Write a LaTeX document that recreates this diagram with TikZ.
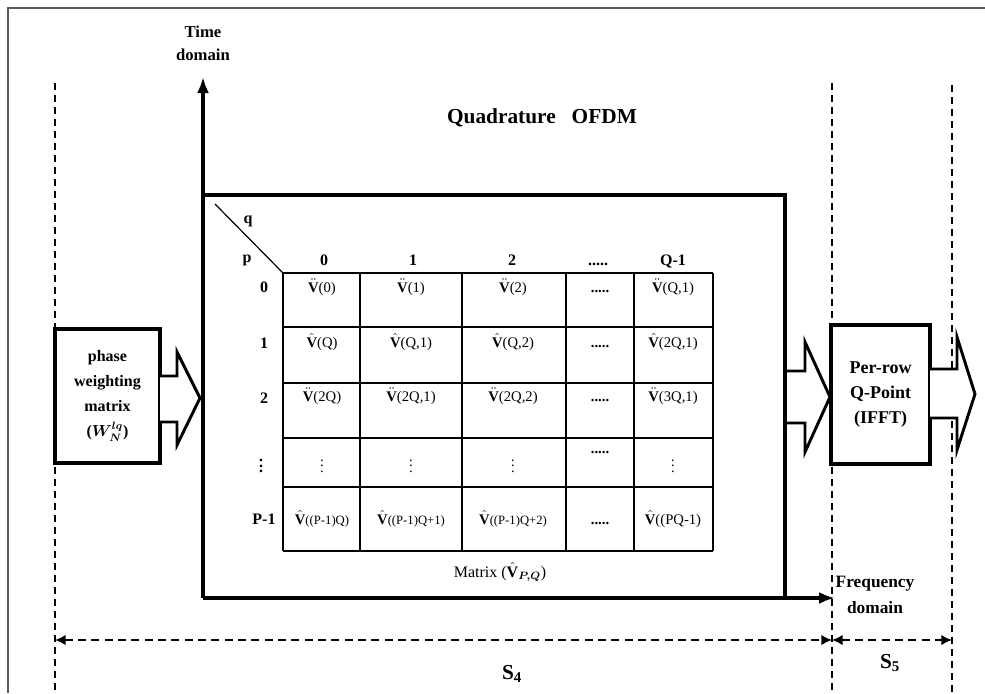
\documentclass[tikz,border=0pt]{standalone}
\usepackage{fontspec}
\usepackage{amsmath}
\setmainfont{Liberation Serif}
\usetikzlibrary{arrows.meta,positioning,calc}
\definecolor{framegray}{HTML}{5A5A5A}
\newcommand{\Vdd}{$\ddot{\text{\bfseries V}}$}
\newcommand{\Vht}{$\hat{\text{\bfseries V}}$}
\newcommand{\smallidx}[1]{{\fontsize{9.5}{11}\selectfont #1}}
\newcommand{\fivedots}{\textbf{.....}}
\tikzset{
  blockbox/.style={draw, line width=3pt, fill=white, align=center, font=\fontsize{12}{18.75}\selectfont\bfseries},
  fatarrow/.style={draw, line width=2.2pt, fill=white, line join=miter},
  axisline/.style={line width=2.8pt, -{Latex[length=12pt,width=9pt]}},
  bound/.style={line width=0.8pt, dash pattern=on 5pt off 4pt},
  dimline/.style={line width=2.2pt, dash pattern=on 6pt off 4pt, {Latex[length=8pt,width=8pt]}-{Latex[length=8pt,width=8pt]}},
  gridline/.style={line width=0.9pt},
  cell/.style={font=\fontsize{11}{13}\selectfont, anchor=base, inner sep=1pt},
  colhead/.style={font=\fontsize{12}{14}\selectfont\bfseries, anchor=base, inner sep=1pt},
  axislabel/.style={align=center, font=\fontsize{13}{19}\selectfont\bfseries}
}

\begin{document}
\begin{tikzpicture}[x=0.75pt, y=-0.75pt]
  \useasboundingbox (0,0) rectangle (985,693);
  \draw[framegray, line width=1.2pt] (8,693) -- (8,8) -- (985,8);

  % stage boundaries
  \draw[bound] (55,83) -- (55,693);
  \draw[bound] (832,83) -- (832,693);
  \draw[bound] (952,85) -- (952,693);

  % axes and OFDM frame
  \coordinate (O) at (203,598);
  \coordinate (tTip) at (203,77);
  \coordinate (fTip) at (835,598);
  \draw[axisline] (O) -- (tTip);
  \draw[axisline] (O) -- (fTip);
  \draw[line width=3pt] (203,195) -- (785,195) -- (785,598);
  \node[axislabel, font=\fontsize{12.5}{17}\selectfont\bfseries] (tlbl) at (203,43) {Time\\domain};
  \node[axislabel] (flbl) at (875,595) {Frequency\\domain};
  \node[font=\fontsize{16}{19}\selectfont\bfseries] (title) at (542,118) {Quadrature\hspace{12pt}OFDM};

  % side blocks
  \node[blockbox, minimum width=78.75pt, minimum height=100.5pt] (phase) at (107.5,396) {phase\\weighting\\matrix\\($\boldsymbol{W_N^{lq}}$)};
  \node[blockbox, font=\fontsize{13.5}{18.4}\selectfont\bfseries, minimum width=74.25pt, minimum height=104.25pt] (ifft) at (880.5,394.5) {Per-row\\Q-Point\\(IFFT)};
  \filldraw[fatarrow] (160,376) -- (177,376) -- (177,352) -- (200,398) -- (177,445) -- (177,422) -- (160,422);
  \filldraw[fatarrow] (787,371) -- (805,371) -- (805,342) -- (830,397) -- (805,452) -- (805,423) -- (787,423);
  \filldraw[fatarrow] (930,369) -- (957,369) -- (957,337) -- (975,394) -- (957,450) -- (957,418) -- (930,418);

  % matrix grid
  \foreach \x in {283,360,462,566,634,713}
    \draw[gridline] (\x,273) -- (\x,551);
  \foreach \y in {273,327,383,438,487,551}
    \draw[gridline] (283,\y) -- (713,\y);
  \draw[gridline] (215,204) -- (283,273);
  \node[colhead, anchor=center] (q) at (248,221) {q};
  \node[colhead, anchor=center] (p) at (247,260) {p};
  \foreach \x/\txt in {324/0, 413/1, 512/2, 598/\fivedots, 673/Q-1}
    \node[colhead] (h-\x) at (\x,265) {\txt};
  \foreach \y/\txt in {292/0, 348/1, 403/2, 524/P-1}
    \node[colhead] (l-\y) at (264,\y) {\txt};
  \node[colhead, anchor=center] (l-dots) at (261,462) {$\vdots$};

  % matrix entries
  \foreach \x/\txt in {322/\Vdd(0), 411/\Vdd(1), 513/\Vdd(2), 600/\fivedots, 673/{\Vdd(Q,1)}}
    \node[cell] (r0-\x) at (\x,292) {\txt};
  \foreach \x/\txt in {322/\Vht(Q), 411/{\Vht(Q,1)}, 513/{\Vht(Q,2)}, 600/\fivedots, 673/{\Vht(2Q,1)}}
    \node[cell] (r1-\x) at (\x,347) {\txt};
  \foreach \x/\txt in {322/\Vdd(2Q), 411/{\Vdd(2Q,1)}, 513/{\Vdd(2Q,2)}, 600/\fivedots, 673/{\Vdd(3Q,1)}}
    \node[cell] (r2-\x) at (\x,401) {\txt};
  \foreach \x in {322,411,513,673}
    \node[cell, anchor=center] (r3-\x) at (\x,462) {$\vdots$};
  \node[cell] (r3-600) at (600,453) {\fivedots};
  \foreach \x/\txt in {322/\Vht\smallidx{((P-1)Q)}, 411/\Vht\smallidx{((P-1)Q+1)}, 513/\Vht\smallidx{((P-1)Q+2)}, 600/\fivedots, 673/\Vht((PQ-1)}
    \node[cell] (r4-\x) at (\x,524) {\txt};
  \node[font=\fontsize{12}{14}\selectfont] (mlabel) at (500,572) {Matrix ($\hat{\text{\bfseries V}}_{\boldsymbol{P,Q}}$)};

  % stage spans
  \coordinate (s4L) at (55,640);
  \coordinate (s4R) at (832,640);
  \coordinate (s5R) at (952,640);
  \draw[dimline] (s4L) -- (s4R);
  \draw[dimline] (s4R) -- (s5R);
  \node[font=\fontsize{16}{19}\selectfont\bfseries] (s4) at (512,674) {S\textsubscript{4}};
  \node[font=\fontsize{16}{19}\selectfont\bfseries] (s5) at (890,663) {S\textsubscript{5}};
\end{tikzpicture}
\end{document}
